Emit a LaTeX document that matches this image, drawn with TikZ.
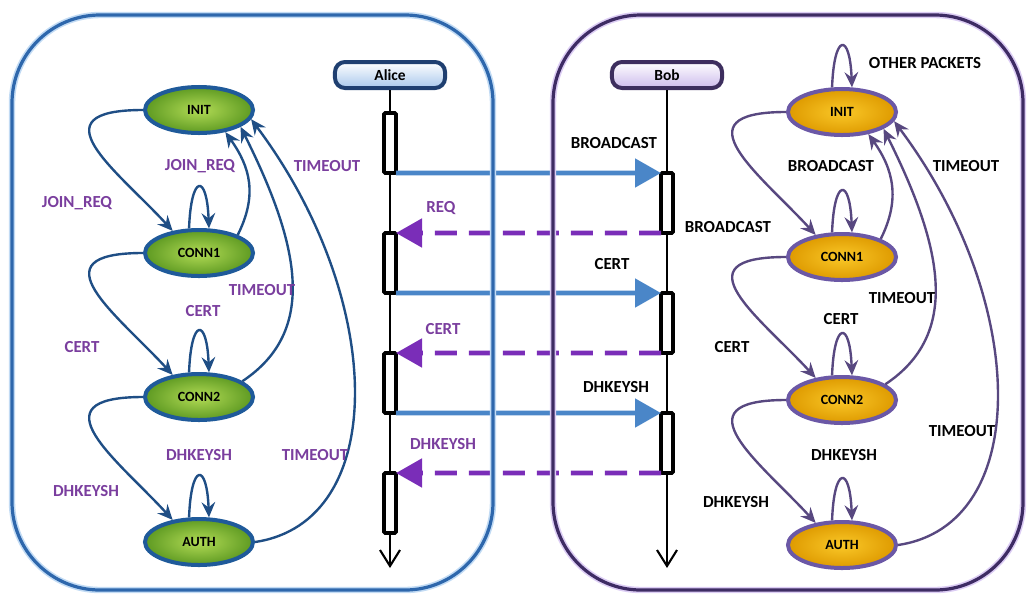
\documentclass[tikz,border=0pt]{standalone}
\usepackage{fontspec}
\setmainfont{Carlito}
\usetikzlibrary{arrows.meta,shapes.geometric}

\definecolor{boxL}{HTML}{2E67AC}
\definecolor{glowL}{HTML}{C2DBF4}
\definecolor{boxR}{HTML}{3E2C64}
\definecolor{glowR}{HTML}{DCCDF4}
\definecolor{edgeLc}{HTML}{1F4E85}
\definecolor{edgeRc}{HTML}{584880}
\definecolor{ellLc}{HTML}{1F5A9A}
\definecolor{ellRc}{HTML}{6B58A6}
\definecolor{greenIn}{HTML}{B2DB55}
\definecolor{greenOut}{HTML}{5E9A22}
\definecolor{orangeIn}{HTML}{FAC828}
\definecolor{orangeOut}{HTML}{DE9A00}
\definecolor{msgBlue}{HTML}{4A86C8}
\definecolor{msgPurple}{HTML}{7A2DB8}
\definecolor{lblPurple}{HTML}{7A3E9E}
\definecolor{aliceFill}{HTML}{A9C8EC}
\definecolor{aliceLine}{HTML}{1F3F70}
\definecolor{bobFill}{HTML}{CDBBEC}
\definecolor{bobLine}{HTML}{3D2E5E}

\tikzset{
  lbl/.style={font=\bfseries\fontsize{12}{14}\selectfont, text=lblPurple, inner sep=1pt},
  lblk/.style={font=\bfseries\fontsize{12}{14}\selectfont, text=black, inner sep=1pt},
  stateL/.style={ellipse, draw=ellLc, line width=1mm, shading=radial, inner color=greenIn, outer color=greenOut,
    minimum width=2.7cm, minimum height=1.15cm, inner sep=0pt, font=\bfseries\fontsize{10}{12}\selectfont},
  stateR/.style={stateL, draw=ellRc, inner color=orangeIn, outer color=orangeOut},
  edgeL/.style={draw=edgeLc, line width=1.7pt, -{Stealth[length=3.8mm,width=3.4mm,inset=1.3mm]}},
  edgeR/.style={edgeL, draw=edgeRc},
  actbar/.style={draw=black, fill=white, line width=2.8pt, rounded corners=1pt, minimum width=0.3cm,
    minimum height=1.5cm, inner sep=0pt, outer sep=0pt},
  party/.style={draw, line width=1mm, rounded corners=0.25cm, minimum width=2.75cm, minimum height=0.65cm,
    inner sep=0pt, font=\bfseries\fontsize{11}{13}\selectfont},
  lifeline/.style={line width=1.5pt, -{Straight Barb[length=4mm,width=5mm]}},
  msg/.style={draw=msgBlue, line width=3.5pt, -{Triangle[length=6.5mm,width=7mm]}},
  msgback/.style={draw=msgPurple, line width=3.5pt, dash pattern=on 5.5mm off 3mm, -{Triangle[length=6.5mm,width=7mm]}}
}

\begin{document}
\begin{tikzpicture}[x=0.025cm, y=-0.025cm]
\useasboundingbox (0,0) rectangle (1029,594);

%%%%% Alice / Bob %%%%%
\node[party, draw=aliceLine, top color=white, bottom color=aliceFill] (alice) at (390,75) {Alice};
\node[party, draw=bobLine, top color=white, bottom color=bobFill] (bob) at (667,75) {Bob};
\coordinate (aliceEnd) at (390,568);
\coordinate (bobEnd) at (667,568);
\draw[lifeline] (alice.south) -- (aliceEnd);
\draw[lifeline] (bob.south) -- (bobEnd);

\node[actbar] (a1) at (390,143) {};
\node[actbar] (b1) at (667,203) {};
\node[actbar] (a2) at (390,263) {};
\node[actbar] (b2) at (667,323) {};
\node[actbar] (a3) at (390,383) {};
\node[actbar] (b3) at (667,443) {};
\node[actbar] (a4) at (390,503) {};

\draw[msg] (a1.south east) -- (b1.north west);
\draw[msgback] (b1.south west) -- (a2.north east);
\draw[msg] (a2.south east) -- (b2.north west);
\draw[msgback] (b2.south west) -- (a3.north east);
\draw[msg] (a3.south east) -- (b3.north west);
\draw[msgback] (b3.south west) -- (a4.north east);

\node[lblk] (mBc) at (614,143) {BROADCAST};
\node[lbl] (mReq) at (441,208) {REQ};
\node[lblk] (mBc2) at (728,227) {BROADCAST};
\node[lblk] (mCert) at (612,264) {CERT};
\node[lbl] (mCert2) at (443,329) {CERT};
\node[lblk] (mDh) at (616,387) {DHKEYSH};
\node[lbl] (mDh2) at (443,444) {DHKEYSH};

%%%%% boxes %%%%%
\draw[glowL, line width=0.16cm, rounded corners=2.2cm] (12,15) rectangle (493,590);
\draw[boxL, line width=0.08cm, rounded corners=2.2cm] (12,15) rectangle (493,590);
\draw[glowR, line width=0.16cm, rounded corners=2.2cm] (553,15) rectangle (1023,590);
\draw[boxR, line width=0.08cm, rounded corners=2.2cm] (553,15) rectangle (1023,590);

%%%%% left states %%%%%
\node[stateL] (initL) at (199,110) {INIT};
\node[stateL] (conn1L) at (199,253) {CONN1};
\node[stateL] (conn2L) at (199,397) {CONN2};
\node[stateL] (authL) at (199,542) {AUTH};

\draw[edgeL] (initL.west) .. controls +(-110,0) and +(-55,-60) .. (conn1L.140);
\draw[edgeL] (conn1L.112) .. controls +(2,-55) and +(-2,-55) .. (conn1L.68);
\draw[edgeL] (conn1L.25) .. controls +(20,-40) and +(25,35) .. (initL.-40);
\draw[edgeL] (conn1L.west) .. controls +(-110,0) and +(-55,-60) .. (conn2L.140);
\draw[edgeL] (conn2L.112) .. controls +(2,-55) and +(-2,-55) .. (conn2L.68);
\draw[edgeL] (conn2L.20) .. controls +(75,-50) and +(60,120) .. (initL.-22);
\draw[edgeL] (conn2L.west) .. controls +(-110,0) and +(-55,-60) .. (authL.140);
\draw[edgeL] (authL.112) .. controls +(2,-55) and +(-2,-55) .. (authL.68);
\draw[edgeL] (authL.east) .. controls +(135,-20) and +(135,180) .. (initL.-10);

\node[lbl] (lJoin) at (77,203) {JOIN\_REQ};
\node[lbl] (lJoin2) at (200,166) {JOIN\_REQ};
\node[lbl] (lTo1) at (327,166) {TIMEOUT};
\node[lbl] (lTo2) at (262,290) {TIMEOUT};
\node[lbl] (lCert) at (203,311) {CERT};
\node[lbl] (lCert2) at (82,347) {CERT};
\node[lbl] (lDh) at (199,455) {DHKEYSH};
\node[lbl] (lTo3) at (315,455) {TIMEOUT};
\node[lbl] (lDh2) at (86,491) {DHKEYSH};

%%%%% right states %%%%%
\node[stateR] (initR) at (842,112) {INIT};
\node[stateR] (conn1R) at (842,257) {CONN1};
\node[stateR] (conn2R) at (842,400) {CONN2};
\node[stateR] (authR) at (842,545) {AUTH};

\draw[edgeR] (initR.112) .. controls +(2,-55) and +(-2,-55) .. (initR.68);
\draw[edgeR] (initR.west) .. controls +(-110,0) and +(-55,-60) .. (conn1R.140);
\draw[edgeR] (conn1R.112) .. controls +(2,-55) and +(-2,-55) .. (conn1R.68);
\draw[edgeR] (conn1R.25) .. controls +(20,-40) and +(25,35) .. (initR.-40);
\draw[edgeR] (conn1R.west) .. controls +(-110,0) and +(-55,-60) .. (conn2R.140);
\draw[edgeR] (conn2R.112) .. controls +(2,-55) and +(-2,-55) .. (conn2R.68);
\draw[edgeR] (conn2R.20) .. controls +(75,-50) and +(60,120) .. (initR.-22);
\draw[edgeR] (conn2R.west) .. controls +(-110,0) and +(-55,-60) .. (authR.140);
\draw[edgeR] (authR.112) .. controls +(2,-55) and +(-2,-55) .. (authR.68);
\draw[edgeR] (authR.east) .. controls +(135,-20) and +(135,180) .. (initR.-10);

\node[lblk] (rOther) at (925,63) {OTHER PACKETS};
\node[lblk] (rBc) at (831,166) {BROADCAST};
\node[lblk] (rTo1) at (966,166) {TIMEOUT};
\node[lblk] (rTo2) at (902,298) {TIMEOUT};
\node[lblk] (rCert) at (841,319) {CERT};
\node[lblk] (rCert2) at (732,347) {CERT};
\node[lblk] (rTo3) at (962,431) {TIMEOUT};
\node[lblk] (rDh) at (844,455) {DHKEYSH};
\node[lblk] (rDh2) at (736,502) {DHKEYSH};
\end{tikzpicture}
\end{document}
